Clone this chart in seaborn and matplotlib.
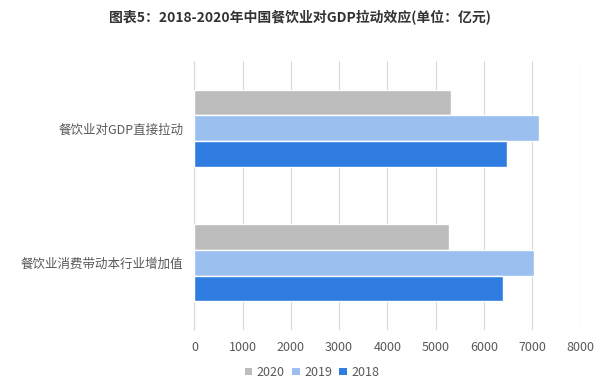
import matplotlib
matplotlib.use("Agg")
import matplotlib.pyplot as plt
import seaborn as sns
import pandas as pd
from matplotlib.patches import Patch

categories = ["餐饮业对GDP直接拉动", "餐饮业消费带动本行业增加值"]
years = ["2020", "2019", "2018"]
values_2020 = [5330, 5270]
values_2019 = [7150, 7050]
values_2018 = [6480, 6390]
xticks = [0, 1000, 2000, 3000, 4000, 5000, 6000, 7000, 8000]

rows = []
for yr, vals in zip(years, [values_2020, values_2019, values_2018]):
    for c, v in zip(categories, vals):
        rows.append({"cat": c, "year": yr, "value": v})
df = pd.DataFrame(rows)

sns.set_theme(style="white")
plt.rcParams["font.family"] = ["Noto Sans CJK SC", "DejaVu Sans"]

fig = plt.figure(figsize=(6, 3.92), dpi=100)
ax = fig.add_axes([0.324, 0.158, 0.643, 0.686])

palette = {"2020": "#BDBDBD", "2019": "#9BBFEF", "2018": "#2F7DE1"}
sns.barplot(data=df, y="cat", x="value", hue="year", order=categories,
            hue_order=years, palette=palette, orient="h", width=0.575,
            saturation=1, ax=ax, legend=False, zorder=3)

ax.set_xlim(0, 8000)
ax.set_ylim(1.5, -0.5)
ax.set_xticks(xticks)
ax.set_xticklabels([str(t) for t in xticks])
ax.grid(axis="x", color="#D9D9D9", linewidth=0.8, zorder=0)
ax.grid(axis="y", visible=False)
for s in ["top", "right", "bottom"]:
    ax.spines[s].set_visible(False)
ax.spines["left"].set_color("#D9D9D9")
ax.spines["left"].set_linewidth(0.8)
ax.set_xlabel("")
ax.set_ylabel("")
ax.tick_params(axis="x", colors="#595959", labelsize=9, length=0, pad=8)
ax.tick_params(axis="y", colors="#595959", labelsize=9, length=0, pad=8)

fig.text(0.5, 0.955, "图表5：2018-2020年中国餐饮业对GDP拉动效应(单位：亿元)",
         ha="center", va="center", fontsize=10, fontweight="bold", color="#333333")

handles = [Patch(facecolor=palette[y], edgecolor="none", label=y) for y in years]
fig.legend(handles=handles, loc="center", bbox_to_anchor=(0.52, 0.05), ncol=3,
           frameon=False, fontsize=9, handlelength=0.6, handleheight=0.6,
           handletextpad=0.35, columnspacing=0.6, labelcolor="#595959")

fig.savefig("out.png", dpi=100, facecolor="white")
